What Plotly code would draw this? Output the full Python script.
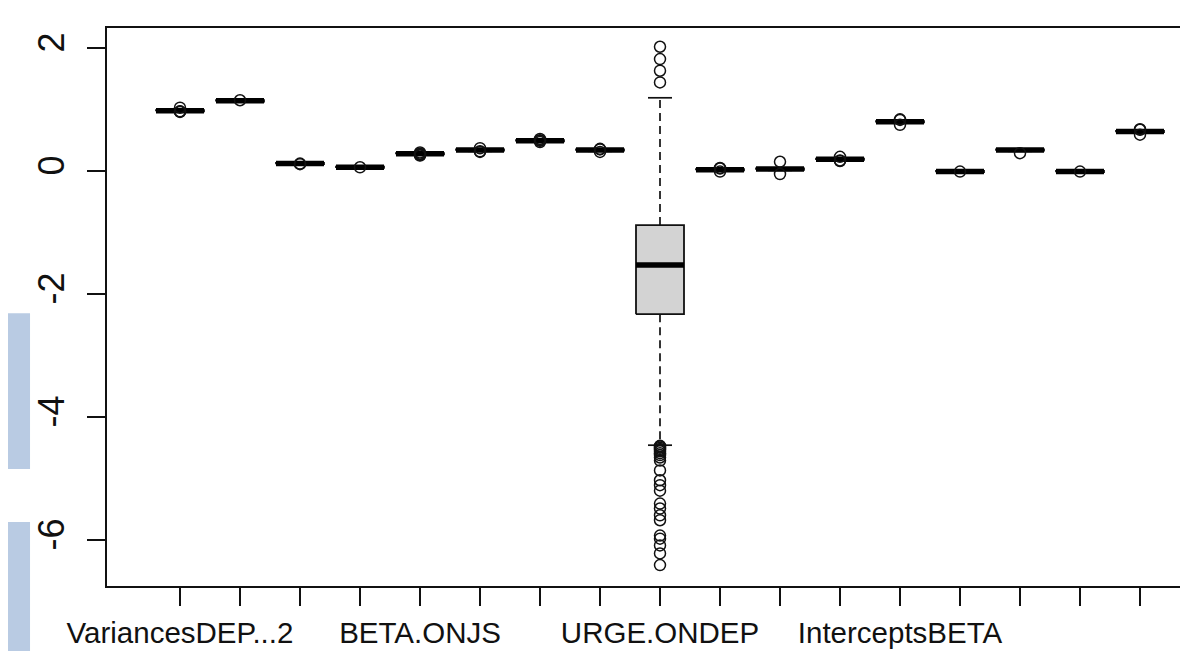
import plotly.graph_objects as go

# ---- data ----
tick_labels = ["VariancesDEP...2", "", "", "", "BETA.ONJS", "", "", "",
               "URGE.ONDEP", "", "", "", "InterceptsBETA", "", "", "", ""]
positions = list(range(1, 18))
medians = [0.98, 1.14, 0.12, 0.06, 0.28, 0.34, 0.49, 0.34, -1.53,
           0.02, 0.03, 0.19, 0.80, -0.01, 0.34, -0.01, 0.64]
q1 = [0.97, 1.13, 0.11, 0.05, 0.27, 0.33, 0.48, 0.33, -2.33,
      0.01, 0.02, 0.18, 0.79, -0.02, 0.33, -0.02, 0.63]
q3 = [0.99, 1.15, 0.13, 0.07, 0.29, 0.35, 0.50, 0.35, -0.88,
      0.03, 0.04, 0.20, 0.81, 0.00, 0.35, 0.00, 0.65]
whisk_lo = [0.96, 1.12, 0.10, 0.04, 0.26, 0.32, 0.47, 0.32, -4.46,
            0.00, 0.01, 0.17, 0.78, -0.03, 0.32, -0.03, 0.62]
whisk_hi = [1.00, 1.16, 0.14, 0.08, 0.30, 0.36, 0.51, 0.36, 1.19,
            0.04, 0.05, 0.21, 0.82, 0.01, 0.36, 0.01, 0.66]
outliers = [
    [1.03, 0.96, 0.965, 0.97],
    [1.15],
    [0.12, 0.11],
    [0.06],
    [0.30, 0.27, 0.25, 0.28, 0.26],
    [0.37, 0.32, 0.31],
    [0.52, 0.49, 0.47, 0.50],
    [0.31, 0.36, 0.35],
    [2.02, 1.82, 1.63, 1.44,
     -4.47, -4.48, -4.50, -4.52, -4.54, -4.56, -4.59, -4.62, -4.66, -4.71,
     -4.87, -5.03, -5.11, -5.20, -5.41, -5.49, -5.60, -5.68, -5.93, -5.98,
     -6.09, -6.22, -6.41],
    [-0.01, 0.04, 0.05],
    [0.15, -0.05],
    [0.23, 0.16, 0.17],
    [0.83, 0.84, 0.75],
    [-0.01],
    [0.29],
    [-0.01],
    [0.67, 0.68, 0.59],
]
y_tick_vals = [2, 0, -2, -4, -6]
y_tick_text = ["2", "0", "-2", "-4", "-6"]

# ---- style ----
HALF = 0.4
STAPLE = 0.2
INK = "#111111"

fig = go.Figure()
for i, x in enumerate(positions):
    # whiskers (dashed)
    fig.add_trace(go.Scatter(
        x=[x, x, None, x, x], y=[q1[i], whisk_lo[i], None, q3[i], whisk_hi[i]],
        mode="lines", line=dict(color=INK, width=1.7, dash="8px,5px"),
        hoverinfo="skip", showlegend=False))
    # staples
    fig.add_trace(go.Scatter(
        x=[x - STAPLE, x + STAPLE, None, x - STAPLE, x + STAPLE],
        y=[whisk_lo[i], whisk_lo[i], None, whisk_hi[i], whisk_hi[i]],
        mode="lines", line=dict(color=INK, width=1.7),
        hoverinfo="skip", showlegend=False))
    # box
    fig.add_trace(go.Scatter(
        x=[x - HALF, x + HALF, x + HALF, x - HALF, x - HALF],
        y=[q1[i], q1[i], q3[i], q3[i], q1[i]],
        mode="lines", fill="toself", fillcolor="#d3d3d3",
        line=dict(color=INK, width=1.8), hoverinfo="skip", showlegend=False))
    # median
    fig.add_trace(go.Scatter(
        x=[x - HALF, x + HALF], y=[medians[i], medians[i]],
        mode="lines", line=dict(color="#000000", width=5.5),
        hoverinfo="skip", showlegend=False))
    # outliers
    fig.add_trace(go.Scatter(
        x=[x] * len(outliers[i]), y=outliers[i], mode="markers",
        marker=dict(symbol="circle-open", size=11, color=INK,
                    line=dict(width=1.5, color=INK)),
        hoverinfo="skip", showlegend=False))

fig.update_layout(
    width=1188, height=651,
    margin=dict(l=99, r=8, t=20, b=73),
    paper_bgcolor="white", plot_bgcolor="white",
    font=dict(family="Liberation Sans, Arial, sans-serif", color="#111111"),
    xaxis=dict(
        range=[-0.2167, 17.8], tickmode="array", tickvals=positions,
        ticktext=tick_labels, ticks="outside", ticklen=18, tickwidth=1.6,
        tickcolor=INK, showgrid=False, zeroline=False, showline=True,
        linecolor=INK, linewidth=2, mirror=True, automargin=False,
        tickfont=dict(size=29.5), tickangle=0, ticklabelstandoff=2),
    yaxis=dict(
        range=[-6.75, 2.325], tickmode="array", tickvals=y_tick_vals,
        ticktext=y_tick_text, ticks="outside", ticklen=18, tickwidth=1.6,
        tickcolor=INK, showgrid=False, zeroline=False, showline=True,
        linecolor=INK, linewidth=2, mirror=False, automargin=False,
        tickfont=dict(size=36), tickangle=-90, ticklabelstandoff=9),
    shapes=[
        dict(type="rect", xref="paper", yref="paper",
             x0=-0.099, x1=-0.0712, y0=0.2097, y1=0.489,
             fillcolor="#b9cbe3", line=dict(width=0), layer="below"),
        dict(type="rect", xref="paper", yref="paper",
             x0=-0.099, x1=-0.0712, y0=-0.1165, y1=0.1147,
             fillcolor="#b9cbe3", line=dict(width=0), layer="below"),
    ],
)

fig.write_html("out.html")
